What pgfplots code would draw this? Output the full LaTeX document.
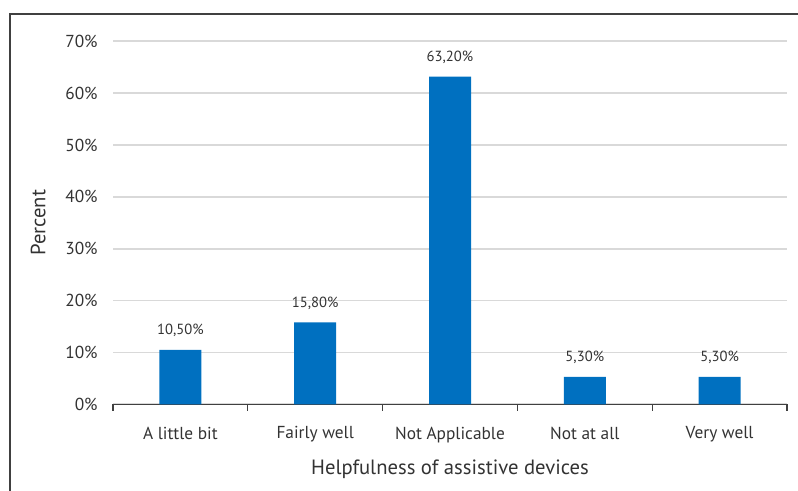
\documentclass[border=0pt]{standalone}
\usepackage{pgfplots}
\pgfplotsset{compat=1.18}
\usepackage{fontspec}
\setmainfont{PT Sans}
\definecolor{barblue}{HTML}{0070C0}
\definecolor{txt}{HTML}{333333}
\definecolor{gridc}{HTML}{D9D9D9}
\definecolor{axc}{HTML}{404040}
\begin{document}
\begin{tikzpicture}[x=1pt,y=1pt]
\useasboundingbox (0,0) rectangle (598.5,-367.5);
\draw[axc, line width=1.1pt] (7.5,-370) -- (7.5,-10.5) -- (600,-10.5);
\begin{axis}[
  at={(84.75pt,-303.2pt)}, anchor=south west,
  scale only axis, width=505.5pt, height=272.25pt,
  xmin=-0.5, xmax=4.5, ymin=0, ymax=70,
  axis x line*=bottom, axis y line*=left,
  y axis line style={draw=none},
  x axis line style={axc, line width=0.8pt, -},
  ytick={0,10,...,70},
  yticklabel={\pgfmathprintnumber{\tick}\%},
  ytick style={draw=none},
  ymajorgrids, grid style={gridc, line width=1.2pt},
  /pgf/number format/assume math mode=true,
  xtick={0,1,2,3,4},
  xticklabels={A little bit, Fairly well, Not Applicable, Not at all, Very well},
  major x tick style={draw=none},
  minor xtick={-0.5,0.5,1.5,2.5,3.5,4.5},
  minor x tick style={axc, line width=0.8pt},
  minor tick length=5pt,
  xtick align=outside,
  tick label style={font=\fontsize{13}{15}\selectfont, text=txt},
  yticklabel style={xshift=-8pt},
  xticklabel style={yshift=-9pt},
  xlabel={Helpfulness of assistive devices},
  ylabel={Percent},
  label style={font=\fontsize{15.5}{18}\selectfont, text=txt},
  xlabel style={yshift=-6pt},
  ylabel style={yshift=8pt},
  ybar, bar width=31.5pt,
  nodes near coords={\pgfmathprintnumber[fixed,fixed zerofill,precision=2,use comma]{\pgfplotspointmeta}\%},
  every node near coord/.append style={font=\fontsize{11}{13}\selectfont, text=txt, yshift=6pt},
  clip=false,
]
\addplot[fill=barblue, draw=none] coordinates {(0,10.5) (1,15.8) (2,63.2) (3,5.3) (4,5.3)};
\end{axis}
\end{tikzpicture}
\end{document}
